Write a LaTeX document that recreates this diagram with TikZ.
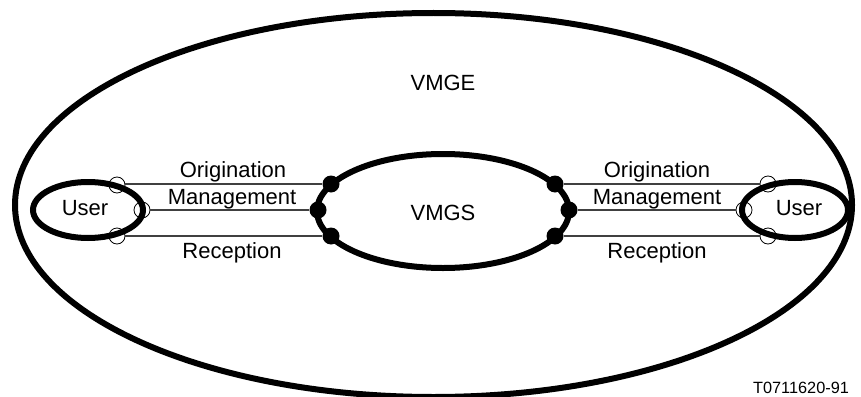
\documentclass[tikz,border=0pt]{standalone}
\usepackage{fontspec}
\setmainfont{Liberation Sans}
\usetikzlibrary{shapes.geometric}
\begin{document}
\begin{tikzpicture}[x=1pt,y=-1pt,
  oval/.style={draw, ellipse, inner sep=0pt, line width=6pt},
  port/.style={draw, circle, inner sep=0pt, minimum size=16pt, line width=0.8pt},
  dot/.style={circle, fill=black, inner sep=0pt, minimum size=17pt},
  link/.style={draw=black!75, line width=1.3pt},
  lbl/.style={anchor=base, inner sep=0pt, font=\fontsize{22}{26}\selectfont}]
\useasboundingbox (0,0) rectangle (861,396);
% outer environment
\node[oval, minimum width=837pt, minimum height=384pt] (vmge) at (433.5,205) {};
\node[lbl] (vmgelbl) at (443,90) {VMGE};
% central system
\node[oval, minimum width=252pt, minimum height=114pt] (vmgs) at (443,211) {};
\node[lbl] (vmgslbl) at (443,220) {VMGS};
% users
\node[oval, minimum width=110pt, minimum height=56pt] (userL) at (88,210) {};
\node[lbl] (userLlbl) at (85,215) {User};
\node[oval, minimum width=106pt, minimum height=56pt] (userR) at (795,210) {};
\node[lbl] (userRlbl) at (799,215) {User};
% ports on users
\node[port] (pL1) at (117,185) {};
\node[port] (pL2) at (142,210) {};
\node[port] (pL3) at (117,236) {};
\node[port] (pR1) at (768,184) {};
\node[port] (pR2) at (744,210) {};
\node[port] (pR3) at (768,236) {};
% dots on VMGS
\node[dot] (dL1) at (331,184) {};
\node[dot] (dL2) at (318,210) {};
\node[dot] (dL3) at (331,236) {};
\node[dot] (dR1) at (555,184) {};
\node[dot] (dR2) at (569,210) {};
\node[dot] (dR3) at (555,236) {};
% links
\draw[link] (pL1.east |- dL1) -- (dL1);
\draw[link] (pL2) -- (dL2);
\draw[link] (pL3.east |- dL3) -- (dL3);
\draw[link] (dR1) -- (pR1.west |- dR1);
\draw[link] (dR2) -- (pR2);
\draw[link] (dR3) -- (pR3.west |- dR3);
% labels
\node[lbl] (oL) at (233,177) {Origination};
\node[lbl] (mL) at (232,204) {Management};
\node[lbl] (rL) at (232,258) {Reception};
\node[lbl] (oR) at (657,177) {Origination};
\node[lbl] (mR) at (657,204) {Management};
\node[lbl] (rR) at (657,258) {Reception};
\node[anchor=base, inner sep=0pt, font=\fontsize{16.3}{19}\selectfont] (code) at (801,393) {T0711620-91};
\end{tikzpicture}
\end{document}
